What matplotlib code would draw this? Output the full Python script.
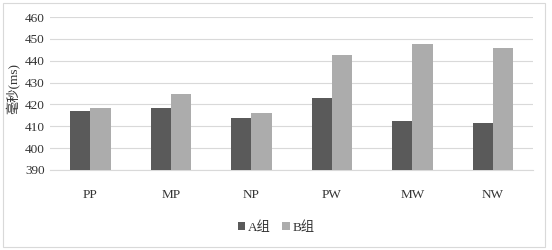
import numpy as np
import matplotlib
matplotlib.use("Agg")
from matplotlib import pyplot as plt
from matplotlib.patches import Rectangle

# Data
categories = ["PP", "MP", "NP", "PW", "MW", "NW"]
group_a = [417.2, 418.2, 413.8, 422.9, 412.6, 411.4]
group_b = [418.2, 424.7, 415.9, 442.6, 447.5, 446.0]
series_names = ["A组", "B组"]
yticks = [390, 400, 410, 420, 430, 440, 450, 460]

plt.rcParams['font.family'] = ['Liberation Serif', 'Noto Sans CJK SC']

fig = plt.figure(figsize=(5.52, 2.5), dpi=100)
ax = fig.add_axes([0.091, 0.32, 0.875, 0.612])

x = np.arange(len(categories))
w = 0.25
ax.bar(x - w / 2, group_a, w, color='#5a5a5a', label=series_names[0], zorder=3)
ax.bar(x + w / 2, group_b, w, color='#acacac', label=series_names[1], zorder=3)

ax.set_ylim(390, 460)
ax.set_yticks(yticks)
ax.set_xlim(-0.5, len(categories) - 0.5)
ax.set_xticks(x)
ax.set_xticklabels(categories)
ax.tick_params(axis='both', length=0, labelsize=9.5, colors='#333333')
ax.tick_params(axis='x', pad=14)
ax.tick_params(axis='y', pad=4)
ax.grid(axis='y', color='#d9d9d9', linewidth=0.8, zorder=0)
for s in ['top', 'right', 'left']:
    ax.spines[s].set_visible(False)
ax.spines['bottom'].set_color('#d9d9d9')

fig.text(0.024, 0.645, "毫秒(ms)", rotation=90, ha='center', va='center',
         fontsize=9.5, color='#333333')

ax.legend(loc='center', bbox_to_anchor=(0.5, 0.09), bbox_transform=fig.transFigure,
          ncol=2, frameon=False, fontsize=9.5, handlelength=0.55, handleheight=0.55,
          handletextpad=0.2, columnspacing=0.9, labelcolor='#333333')

fig.patches.append(Rectangle((0.006, 0.012), 0.982, 0.975, transform=fig.transFigure,
                             fill=False, edgecolor='#d9d9d9', linewidth=0.8))

fig.savefig("out.png", dpi=100)
